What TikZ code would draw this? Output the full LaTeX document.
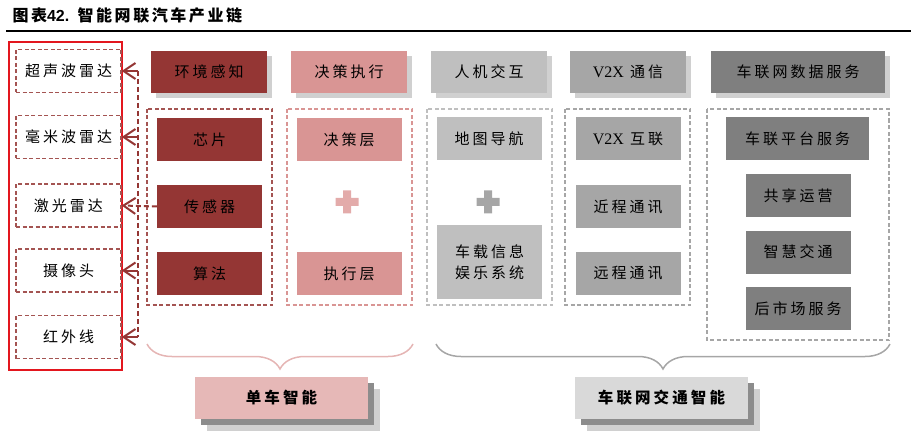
\documentclass[tikz,border=0pt]{standalone}
\usepackage{fontspec}
\newfontfamily\cjk[LetterSpace=20]{Noto Sans CJK SC}
\newfontfamily\cjktitle[LetterSpace=16]{Noto Sans CJK SC}
\newfontfamily\lat{Liberation Serif}
\newfontfamily\latsans{Liberation Sans}
\usetikzlibrary{arrows.meta,decorations.pathreplacing,shadows,positioning}
\definecolor{darkred}{HTML}{943634}
\definecolor{rosy}{HTML}{D99594}
\definecolor{palerose}{HTML}{E6B8B7}
\definecolor{plusrose}{HTML}{E3ABAA}
\definecolor{grayA}{HTML}{BFBFBF}
\definecolor{grayB}{HTML}{A6A6A6}
\definecolor{grayC}{HTML}{7F7F7F}
\definecolor{grayD}{HTML}{D9D9D9}
\definecolor{redframe}{HTML}{E3161E}
\definecolor{shade}{HTML}{D0D0D0}
\definecolor{shadedark}{HTML}{8C8C8C}
\tikzset{
  box/.style={minimum width=105pt,minimum height=43pt,inner sep=0pt,align=center,
    font=\cjk\fontsize{15}{20.5}\selectfont},
  head/.style={box,minimum width=116pt,minimum height=42pt,
    drop shadow={shadow xshift=5pt,shadow yshift=-5pt,fill=shade,opacity=1}},
  sumlabel/.style={box,minimum width=173pt,minimum height=42pt,
    font=\cjk\bfseries\fontsize{15.5}{18}\selectfont,
    drop shadow={shadow xshift=12pt,shadow yshift=-12pt,fill=shade,opacity=1},
    drop shadow={shadow xshift=6pt,shadow yshift=-6pt,fill=shadedark,opacity=1}},
  sensorbox/.style={box,draw=darkred!85,dash pattern=on 4pt off 2.5pt,line width=1.3pt},
  group/.style={dash pattern=on 4pt off 2.5pt,line width=1.2pt},
  arr/.style={draw=darkred,line width=2pt,-{Straight Barb[length=12pt,width=16pt]}},
  bracepath/.style={decorate,decoration={brace,amplitude=25pt},line width=1.5pt}
}
\begin{document}
\begin{tikzpicture}[x=1pt,y=-1pt]
  \useasboundingbox (0,0) rectangle (911,441);
  % Draw title.
  \node[anchor=west,font=\cjktitle\bfseries\fontsize{16}{18}\selectfont] (title) at (9,15)
    {图表{\latsans\bfseries 42.} 智能网联汽车产业链};
  \draw[line width=2.3pt] (6,31) -- (911,31);

  % Draw sensors.
  \draw[redframe,line width=2pt] (9,42) rectangle (122,370);
  \node[sensorbox] (us) at (68.5,71) {超声波雷达};
  \node[sensorbox] (mmw) at (68.5,137) {毫米波雷达};
  \node[sensorbox] (lidar) at (68.5,205.5) {激光雷达};
  \node[sensorbox] (cam) at (68.5,270.5) {摄像头};
  \node[sensorbox] (ir) at (68.5,337) {红外线};

  % Draw header row.
  \node[head,fill=darkred] (env) at (209,72) {环境感知};
  \node[head,fill=rosy] (dec) at (349,72) {决策执行};
  \node[head,fill=grayA] (hmi) at (489,72) {人机交互};
  \node[head,fill=grayB] (vx) at (628,72) {{\lat\fontsize{16}{20}\selectfont V2X} 通信};
  \node[head,fill=grayC,minimum width=174pt] (data) at (798,72) {车联网数据服务};

  % Draw groups.
  \draw[group,darkred!85] (147,109) rectangle (272,305);
  \draw[group,rosy] (287,109) rectangle (412,305);
  \draw[group,grayA] (427,109) rectangle (552,305);
  \draw[group,grayB] (565,109) rectangle (690,305);
  \draw[group,grayB] (707,109) rectangle (889,340);

  \node[box,fill=darkred] (chip) at (209.5,139.5) {芯片};
  \node[box,fill=darkred] (sensor) at (209.5,206.5) {传感器};
  \node[box,fill=darkred] (algo) at (209.5,273.5) {算法};

  \node[box,fill=rosy] (layer1) at (349,139.5) {决策层};
  \node[box,fill=rosy] (layer2) at (349,273.5) {执行层};
  \fill[plusrose] (335.5,198) rectangle (358.5,206) (343,190.5) rectangle (351,213.5);

  \node[box,fill=grayA] (nav) at (489,139) {地图导航};
  \node[box,fill=grayA,minimum height=74pt] (ivi) at (489.5,262) {车载信息\\娱乐系统};
  \fill[grayB] (476.5,198) rectangle (499.5,206) (484,190.5) rectangle (492,213.5);

  \node[box,fill=grayB] (link) at (628,139) {{\lat\fontsize{16}{20}\selectfont V2X} 互联};
  \node[box,fill=grayB] (near) at (628,206.5) {近程通讯};
  \node[box,fill=grayB] (far) at (628,273.5) {远程通讯};

  \node[box,fill=grayC,minimum width=143pt] (plat) at (797.5,139) {车联平台服务};
  \node[box,fill=grayC] (share) at (798,195.5) {共享运营};
  \node[box,fill=grayC] (traffic) at (798,252) {智慧交通};
  \node[box,fill=grayC] (after) at (798,308.5) {后市场服务};

  % Draw arrows to sensors.
  \coordinate (vtop) at (138,71);
  \coordinate (vbot) at (138,337);
  \draw[darkred,line width=1.5pt,dash pattern=on 5pt off 3pt] (vtop) -- (vbot);
  \draw[arr] (vtop) -- (us.east);
  \draw[arr] (138,137) -- (mmw.east);
  \draw[arr,dash pattern=on 5pt off 3pt] (sensor.west) -- (lidar.east);
  \draw[arr] (138,270.5) -- (cam.east);
  \draw[arr] (vbot) -- (ir.east);

  % Draw braces and labels.
  \draw[bracepath,palerose!90!rosy] (413,344) -- (147,344);
  \draw[bracepath,grayB] (890,344) -- (436,344);
  \node[sumlabel,fill=palerose] (single) at (281.5,398) {单车智能};
  \node[sumlabel,fill=grayD] (net) at (661.5,398) {车联网交通智能};
\end{tikzpicture}
\end{document}
